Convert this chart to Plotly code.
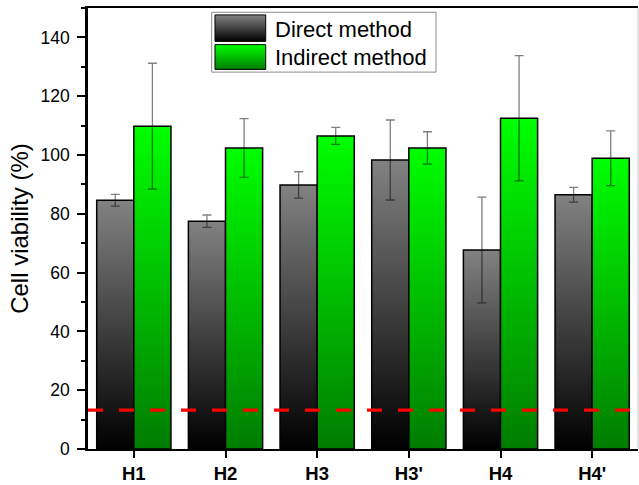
import numpy as np
import plotly.graph_objects as go

# ---------------- data ----------------
categories = ["H1", "H2", "H3", "H3'", "H4", "H4'"]
direct = [84.6, 77.5, 89.8, 98.3, 67.7, 86.5]
direct_err = [2.0, 2.1, 4.5, 13.6, 18.0, 2.5]
indirect = [109.8, 102.4, 106.5, 102.4, 112.5, 98.9]
indirect_err = [21.4, 10.0, 2.9, 5.5, 21.3, 9.3]
threshold = 13.2
y_tickvals = [0, 20, 40, 60, 80, 100, 120, 140]
series_names = ["Direct method", "Indirect method"]

# ---------------- style ----------------
FONT = "Liberation Sans, Arial, sans-serif"
BAR_W = 0.405
GRAY_SCALE = [[0, "#000000"], [1, "#828282"]]
GREEN_SCALE = [[0, "#007c00"], [1, "#00ff00"]]
ERR_COLOR = "rgba(0,0,0,0.5)"

idx = np.arange(len(categories))
fig = go.Figure()


def add_bars(values, offset_sign, scale):
    for i, v in zip(idx, values):
        if offset_sign < 0:
            x0, x1 = i - BAR_W, i
        else:
            x0, x1 = i, i + BAR_W
        fig.add_trace(go.Scatter(
            x=[x0, x0, x1, x1, x0], y=[0, v, v, 0, 0],
            mode="lines", fill="toself",
            fillgradient=dict(type="vertical", colorscale=scale),
            line=dict(color="black", width=1.5),
            hoverinfo="skip", showlegend=False))


add_bars(direct, -1, GRAY_SCALE)
add_bars(indirect, +1, GREEN_SCALE)

for values, errs, sign in [(direct, direct_err, -1), (indirect, indirect_err, +1)]:
    fig.add_trace(go.Scatter(
        x=idx + sign * BAR_W / 2, y=values, mode="markers",
        marker=dict(size=1, color="rgba(0,0,0,0)"),
        error_y=dict(type="data", array=errs, visible=True,
                     color=ERR_COLOR, thickness=1.3, width=4.5),
        hoverinfo="skip", showlegend=False))

# ---------- legend (manual, on overlay axes spanning plot area [0,1]) ----------
legend_rows = [(0.9843, 0.9243), (0.9169, 0.8607)]
for (ytop, ybot), scale in zip(legend_rows, [GRAY_SCALE, GREEN_SCALE]):
    fig.add_trace(go.Scatter(
        x=[0.2309, 0.2309, 0.3231, 0.3231, 0.2309], y=[ybot, ytop, ytop, ybot, ybot],
        xaxis="x2", yaxis="y2", mode="lines", fill="toself",
        fillgradient=dict(type="vertical", colorscale=scale),
        line=dict(color="black", width=1), hoverinfo="skip", showlegend=False))

annotations = []
for (ytop, ybot), name in zip(legend_rows, series_names):
    annotations.append(dict(
        x=0.336, y=(ytop + ybot) / 2 - 0.002, xref="paper", yref="paper",
        text=name, showarrow=False, xanchor="left", yanchor="middle",
        font=dict(family=FONT, size=22, color="black")))

shapes = [
    # legend frame
    dict(type="rect", xref="paper", yref="paper", x0=0.2249, x1=0.6327,
         y0=0.8546, y1=0.9903, fillcolor="white", line=dict(color="#8a8a8a", width=1),
         layer="below"),
    # threshold line
    dict(type="line", xref="paper", yref="y", x0=0, x1=1, y0=threshold, y1=threshold,
         line=dict(color="#ff0000", width=3.2, dash="15px,16px"), layer="above"),
    # right frame
    dict(type="line", xref="paper", yref="paper", x0=1, x1=1, y0=0, y1=1,
         line=dict(color="#c4c4c4", width=1), layer="above"),
]

fig.update_layout(
    width=639, height=485,
    margin=dict(l=88, r=1, t=8, b=32),
    paper_bgcolor="white", plot_bgcolor="white",
    font=dict(family=FONT, color="black"),
    showlegend=False,
    shapes=shapes, annotations=annotations,
    xaxis=dict(
        range=[-0.5, 5.5], tickmode="array", tickvals=idx, ticktext=categories,
        ticks="outside", ticklen=7, tickwidth=1.5, tickcolor="black",
        showline=True, linecolor="black", linewidth=2, mirror=True,
        showgrid=False, zeroline=False,
        tickfont=dict(family=FONT, size=18.5, weight="bold", color="black"),
    ),
    yaxis=dict(
        range=[0, 150], tickmode="array", tickvals=y_tickvals,
        ticks="outside", ticklen=8, tickwidth=1.5, tickcolor="black",
        ticklabelstandoff=4,
        minor=dict(dtick=10, ticks="outside", ticklen=4, tickwidth=1.5, tickcolor="black"),
        showline=True, linecolor="black", linewidth=2.5,
        showgrid=False, zeroline=False,
        tickfont=dict(family=FONT, size=17.5, color="black"),
        title=dict(text="Cell viability (%)", font=dict(family=FONT, size=24, color="black"),
                   standoff=6),
    ),
    xaxis2=dict(overlaying="x", range=[0, 1], visible=False, fixedrange=True),
    yaxis2=dict(overlaying="y", range=[0, 1], visible=False, fixedrange=True),
)

fig.write_html("out.html")
